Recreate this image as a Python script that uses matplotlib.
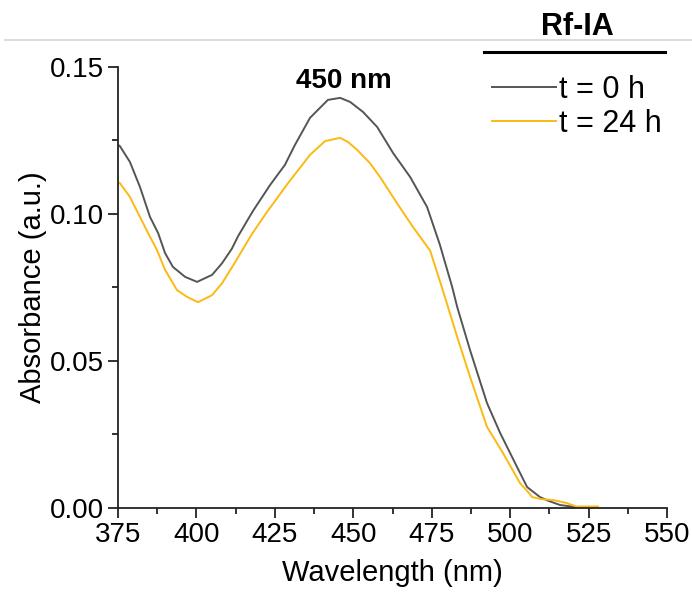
import numpy as np
import matplotlib
matplotlib.use("Agg")
import matplotlib.pyplot as plt
from matplotlib.lines import Line2D
from matplotlib.ticker import MultipleLocator, FormatStrFormatter

plt.rcParams["font.family"] = ["Liberation Sans", "DejaVu Sans"]

# spectra
wl_0h = [375, 375.6, 378.8, 382, 385.2, 387.8, 390, 392.5, 396.4, 400.2, 405, 408.2, 411.3,
         413.3, 418, 423.5, 428.2, 431.4, 436.2, 441.9, 445.8, 449, 453.1, 457.6, 462.7,
         468.1, 473.5, 477.6, 481.5, 483.1, 487.2, 492.6, 496.8, 502.2, 505.4, 509.5, 512,
         515.9, 521]
abs_0h = [0.1235, 0.1231, 0.1177, 0.1092, 0.099, 0.0935, 0.0867, 0.082, 0.0786, 0.0769, 0.0793,
          0.0833, 0.0882, 0.0925, 0.101, 0.1099, 0.1167, 0.1235, 0.1327, 0.1388, 0.1395, 0.1381,
          0.1347, 0.1296, 0.1207, 0.1126, 0.1024, 0.0895, 0.0752, 0.0684, 0.0537, 0.0357, 0.0255,
          0.0139, 0.0071, 0.0037, 0.0025, 0.001, 0.0003]

wl_24h = [375, 375.6, 378.8, 382, 384.6, 387.4, 390, 393.8, 397, 400.5, 405, 408.2, 411.7,
          417.7, 422.5, 429.2, 436.2, 441, 445.8, 448.3, 451.2, 455.3, 458.5, 463.9, 469,
          474.5, 478.6, 483.1, 487.2, 492.6, 497.7, 503.1, 505.7, 507, 510, 513.6, 518, 521,
          524, 528]
abs_24h = [0.1108, 0.1105, 0.1058, 0.099, 0.0935, 0.0878, 0.081, 0.0741, 0.0718, 0.070, 0.0724,
           0.0765, 0.0825, 0.0932, 0.1007, 0.1105, 0.1201, 0.1248, 0.1259, 0.1245, 0.1218, 0.1173,
           0.1126, 0.1037, 0.0956, 0.0875, 0.0738, 0.0582, 0.0446, 0.0276, 0.0187, 0.0085, 0.0054,
           0.0037, 0.003, 0.0027, 0.0017, 0.0005, 0.0005, 0.0005]

fig = plt.figure(figsize=(6.92, 5.96), dpi=100)
ax = fig.add_axes([0.1705, 0.1477, 0.7935, 0.7399])

ax.plot(wl_0h, abs_0h, color="#555555", lw=1.4, label="t = 0 h")
ax.plot(wl_24h, abs_24h, color="#FDB913", lw=1.4, label="t = 24 h")

ax.set_xlim(375, 550)
ax.set_ylim(0, 0.15)
ax.xaxis.set_major_locator(MultipleLocator(25))
ax.xaxis.set_minor_locator(MultipleLocator(12.5))
ax.yaxis.set_major_locator(MultipleLocator(0.05))
ax.yaxis.set_minor_locator(MultipleLocator(0.025))
ax.yaxis.set_major_formatter(FormatStrFormatter("%.2f"))

for s in ["top", "right"]:
    ax.spines[s].set_visible(False)
for s in ["left", "bottom"]:
    ax.spines[s].set_linewidth(1.3)
    ax.spines[s].set_color("#222222")
ax.tick_params(which="major", direction="out", length=7, width=1.3, labelsize=20, pad=3,
               color="#222222", labelcolor="black")
ax.tick_params(which="minor", direction="out", length=4, width=1.3, color="#222222")

ax.set_xlabel("Wavelength (nm)", fontsize=21, labelpad=8)
ax.set_ylabel("Absorbance (a.u.)", fontsize=21, labelpad=2)

ax.text(447, 0.1453, "450 nm", fontsize=20, fontweight="bold", ha="center", va="center")

leg = ax.legend(loc="upper left", bbox_to_anchor=(492 / 692, 1 - 75 / 596),
                bbox_transform=fig.transFigure, frameon=False, fontsize=22,
                handlelength=2.1, handletextpad=0.1, labelspacing=0.12, borderpad=0,
                borderaxespad=0)

# header above legend
fig.text(577 / 692, 1 - 27 / 596, "Rf-IA", fontsize=22, fontweight="bold", ha="center", va="center")
fig.add_artist(Line2D([484 / 692, 665 / 692], [1 - 52 / 596, 1 - 52 / 596], color="black", lw=2.2))
fig.add_artist(Line2D([5 / 692, 1.0], [1 - 40 / 596, 1 - 40 / 596], color="#d4d4d4", lw=1.2))

fig.savefig("out.png", dpi=100)
